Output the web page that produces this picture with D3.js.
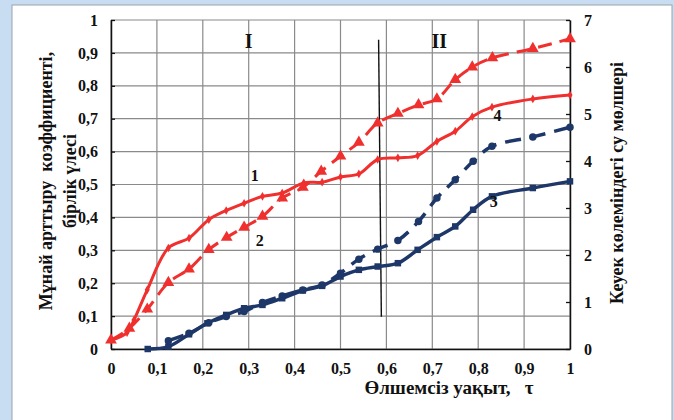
<!DOCTYPE html>
<html lang="kk">
<head>
<meta charset="utf-8">
<script src="https://d3js.org/d3.v7.min.js"></script>
<style>
  body { margin: 0; background: #c8ddf1; }
  svg { display: block; }
  text { font-family: "Liberation Serif", "Times New Roman", serif; font-weight: bold; fill: #111; }
</style>
</head>
<body>
<svg width="674" height="420"></svg>
<script>

// tau values shared by each series
var tau1 = [0, 0.035, 0.05, 0.079, 0.125, 0.17, 0.213, 0.251, 0.29, 0.33, 0.373, 0.42, 0.46, 0.5, 0.54, 0.581, 0.625, 0.668, 0.71, 0.75, 0.787, 0.83, 0.919, 1];
var curve1 = [0.027, 0.05, 0.088, 0.18, 0.307, 0.337, 0.393, 0.421, 0.443, 0.464, 0.474, 0.505, 0.507, 0.523, 0.532, 0.576, 0.581, 0.588, 0.631, 0.662, 0.706, 0.735, 0.76, 0.772];

var tau2 = [0, 0.04, 0.079, 0.125, 0.17, 0.213, 0.252, 0.29, 0.33, 0.373, 0.418, 0.458, 0.5, 0.54, 0.581, 0.625, 0.67, 0.71, 0.75, 0.787, 0.831, 0.919, 1];
var curve2 = [0.027, 0.063, 0.121, 0.202, 0.243, 0.302, 0.339, 0.37, 0.403, 0.459, 0.491, 0.54, 0.586, 0.628, 0.687, 0.716, 0.742, 0.76, 0.819, 0.857, 0.885, 0.913, 0.943];

// blue curves are read on the right axis (0..7)
var tau3 = [0.08, 0.125, 0.17, 0.21, 0.251, 0.29, 0.33, 0.373, 0.418, 0.46, 0.5, 0.54, 0.581, 0.625, 0.668, 0.71, 0.75, 0.789, 0.83, 0.919, 1];
var curve3 = [0, 0.05, 0.313, 0.547, 0.725, 0.867, 0.938, 1.08, 1.244, 1.343, 1.542, 1.684, 1.755, 1.826, 2.11, 2.38, 2.608, 2.963, 3.248, 3.425, 3.567];

var tau4 = [0.125, 0.17, 0.213, 0.251, 0.29, 0.33, 0.373, 0.418, 0.46, 0.5, 0.54, 0.581, 0.625, 0.67, 0.71, 0.75, 0.789, 0.83, 0.919, 1];
var curve4 = [0.178, 0.334, 0.561, 0.689, 0.796, 0.988, 1.13, 1.258, 1.364, 1.613, 1.912, 2.125, 2.31, 2.715, 3.212, 3.603, 3.994, 4.313, 4.513, 4.719];

var xTicks = [0, 0.1, 0.2, 0.3, 0.4, 0.5, 0.6, 0.7, 0.8, 0.9, 1];
var yTicks = [0, 0.1, 0.2, 0.3, 0.4, 0.5, 0.6, 0.7, 0.8, 0.9, 1];
var y2Ticks = [0, 1, 2, 3, 4, 5, 6, 7];

var red = "#f0302e", navy = "#1d3768";
var fmt = function(d) { return String(d).replace(".", ","); };

var svg = d3.select("svg");
var mLeft = 111, mRight = 570, mTop = 20, mBottom = 349;

// white panel
svg.append("rect").attr("x", 12).attr("y", 5).attr("width", 660).attr("height", 420)
    .attr("fill", "#fff").attr("stroke", "#9aa3ad").attr("stroke-width", 1);

var x = d3.scaleLinear().domain([0, 1]).range([mLeft, mRight]);
var y = d3.scaleLinear().domain([0, 1]).range([mBottom, mTop]);
var y2 = d3.scaleLinear().domain([0, 7]).range([mBottom, mTop]);

// grid
var g = svg.append("g");
g.selectAll("line.v").data(xTicks).enter().append("line")
    .attr("x1", d => x(d)).attr("x2", d => x(d)).attr("y1", mTop).attr("y2", mBottom)
    .attr("stroke", "#8a8a8a").attr("stroke-width", 1.2);
g.selectAll("line.h").data(yTicks).enter().append("line")
    .attr("x1", mLeft).attr("x2", mRight).attr("y1", d => y(d)).attr("y2", d => y(d))
    .attr("stroke", "#8a8a8a").attr("stroke-width", 1.2);

// axes
var ax = svg.append("g").attr("transform", "translate(0," + mBottom + ")")
    .call(d3.axisBottom(x).tickValues(xTicks).tickFormat(fmt).tickSize(0).tickPadding(11));
var ay = svg.append("g").attr("transform", "translate(" + mLeft + ",0)")
    .call(d3.axisLeft(y).tickValues(yTicks).tickFormat(fmt).tickSizeInner(-4).tickSizeOuter(0).tickPadding(13));
var ay2 = svg.append("g").attr("transform", "translate(" + mRight + ",0)")
    .call(d3.axisRight(y2).tickValues(y2Ticks).tickFormat(d => d).tickSizeInner(-4).tickSizeOuter(0).tickPadding(14));
[ax, ay, ay2].forEach(function(a) {
    a.attr("font-family", null).attr("font-size", null);
    a.select(".domain").attr("stroke", "#111").attr("stroke-width", 1.5);
    a.selectAll(".tick line").attr("stroke", "#111").attr("stroke-width", 1.3);
    a.selectAll(".tick text").attr("fill", "#111").style("font-size", "16px");
});
ax.selectAll(".tick text").attr("dy", "0.9em");

// phase divider
svg.append("line").attr("x1", x(0.583)).attr("y1", y(0.94)).attr("x2", x(0.589)).attr("y2", y(0.098))
    .attr("stroke", "#111").attr("stroke-width", 1.4);

var smooth = d3.line().curve(d3.curveCatmullRom.alpha(0.5));

function series(tau, vals, ys, color, width, dash) {
    var pts = tau.map(function(t, i) { return [x(t), ys(vals[i])]; });
    svg.append("path").attr("d", smooth(pts)).attr("fill", "none")
        .attr("stroke", color).attr("stroke-width", width)
        .attr("stroke-dasharray", dash).attr("stroke-linejoin", "round");
    return pts;
}
function markers(pts, type, size, color) {
    svg.append("g").selectAll("path").data(pts).enter().append("path")
        .attr("transform", d => "translate(" + d[0] + "," + d[1] + ")")
        .attr("d", d3.symbol().type(type).size(size)).attr("fill", color);
}

var p3 = series(tau3, curve3, y2, navy, 3.5, null);
markers(p3, d3.symbolSquare, 42, navy);
var p4 = series(tau4, curve4, y2, navy, 3.5, "16,9");
markers(p4, d3.symbolCircle, 44, navy);
var p1 = series(tau1, curve1, y, red, 3, null);
markers(p1, d3.symbolDiamond, 22, red);
var p2 = series(tau2, curve2, y, red, 3, "14,8");
markers(p2, d3.symbolTriangle, 60, red);

// annotations
var notes = [
    { t: "I", tx: 0.3, v: 0.915, s: 20 },
    { t: "II", tx: 0.715, v: 0.915, s: 20 },
    { t: "1", tx: 0.313, v: 0.51, s: 16 },
    { t: "2", tx: 0.324, v: 0.312, s: 16 },
    { t: "3", tx: 0.834, v: 0.432, s: 16 },
    { t: "4", tx: 0.842, v: 0.692, s: 16 }
];
svg.selectAll("text.note").data(notes).enter().append("text")
    .attr("x", d => x(d.tx)).attr("y", d => y(d.v)).attr("text-anchor", "middle")
    .style("font-size", d => d.s + "px").text(d => d.t);

// axis titles
svg.append("text").attr("x", 449).attr("y", 394).attr("text-anchor", "middle")
    .style("font-size", "19px").attr("xml:space", "preserve").text("Өлшемсіз уақыт,   τ");
var lt = svg.append("text").attr("transform", "translate(52,181) rotate(-90)")
    .attr("text-anchor", "middle").style("font-size", "18px").attr("xml:space", "preserve");
lt.append("tspan").attr("x", 0).attr("y", 0).text("Мұнай арттыру  коэффициенті,");
lt.append("tspan").attr("x", 0).attr("y", 24).text("бірлік үлесі");
svg.append("text").attr("transform", "translate(623,183) rotate(-90)")
    .attr("text-anchor", "middle").style("font-size", "18px").text("Кеуек көлеміндегі су мөлшері");

</script>
</body>
</html>
